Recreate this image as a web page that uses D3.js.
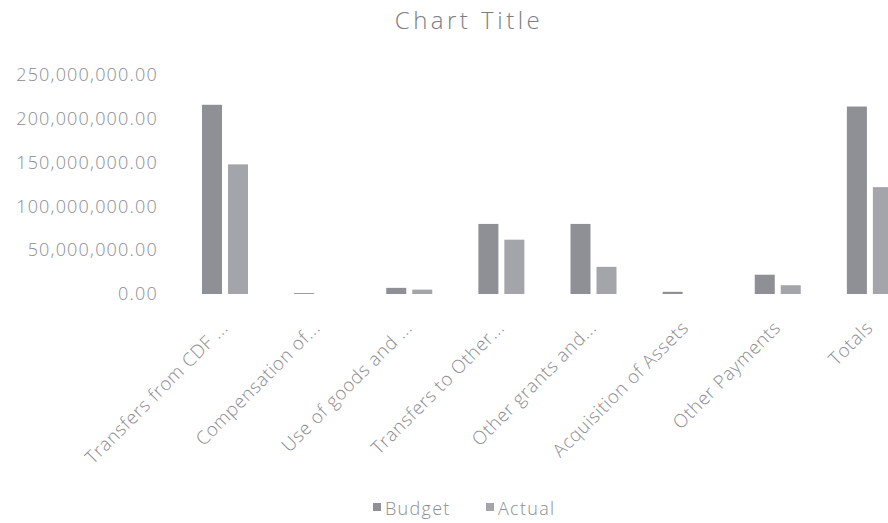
<!DOCTYPE html>
<html>
<head>
<meta charset="utf-8">
<script src="https://cdn.jsdelivr.net/npm/d3@7"></script>
<style>
  body { margin: 0; background: #fff; overflow: hidden; }
  text { font-family: "Open Sans", "DejaVu Sans", sans-serif; fill: #8c8d93; font-weight: 300; }
</style>
</head>
<body>
<div class="chart"></div>
<script>
const categories = ["Transfers from CDF ...", "Compensation of...", "Use of goods and ...", "Transfers to Other...",
    "Other grants and...", "Acquisition of Assets", "Other Payments", "Totals"];
const series = ["Budget", "Actual"];
const budget = [216000000, 1000000, 7000000, 80000000, 80000000, 2500000, 22000000, 214000000];
const actual = [148000000, 0, 5000000, 62000000, 31000000, 0, 10000000, 122000000];
const yTicks = [0, 50000000, 100000000, 150000000, 200000000, 250000000];

var width = 888;
var height = 523;

const colors = { Budget: "#8f9096", Actual: "#a4a5aa" };

var svg = d3.select(".chart")
    .append("svg")
    .attr("width", width)
    .attr("height", height);

// category scale runs past the right edge, like the cropped original
var x = d3.scaleBand()
    .domain(categories)
    .range([179, 916]);

var x1 = d3.scaleBand()
    .domain(series)
    .range([23, 69])
    .paddingInner(0.23);

var y = d3.scaleLinear()
    .domain([0, 250000000])
    .range([294, 75]);

// title
svg.append("text")
    .attr("x", 469)
    .attr("y", 29)
    .attr("text-anchor", "middle")
    .style("font-size", "24px")
    .style("letter-spacing", "3.5px")
    .style("fill", "#7c7d83")
    .text("Chart Title");

// y axis labels
var yAxis = d3.axisLeft(y)
    .tickValues(yTicks)
    .tickFormat(d3.format(",.2f"))
    .tickSize(0)
    .tickPadding(0);

svg.append("g")
    .attr("transform", "translate(158,0)")
    .call(yAxis)
    .call(g => g.select(".domain").remove())
    .selectAll("text")
    .style("font-size", "18px")
    .style("letter-spacing", "1.2px")
    .style("fill", "#8c8d93")
    .style("font-family", "\"Open Sans\", sans-serif");

// bars
const rows = categories.map((c, i) => ({ cat: c, Budget: budget[i], Actual: actual[i] }));

var groups = svg.selectAll("g.grp")
    .data(rows)
    .join("g")
    .attr("class", "grp")
    .attr("transform", d => `translate(${x(d.cat)},0)`);

groups.selectAll("rect")
    .data(d => series.map(s => ({ key: s, value: d[s] })))
    .join("rect")
    .attr("x", d => x1(d.key))
    .attr("width", x1.bandwidth())
    .attr("y", d => y(d.value))
    .attr("height", d => y(0) - y(d.value))
    .style("fill", d => colors[d.key]);

// rotated category labels
svg.selectAll("text.cat")
    .data(categories)
    .join("text")
    .attr("class", "cat")
    .attr("text-anchor", "end")
    .attr("transform", d => `translate(${x(d) + x.bandwidth() / 2 + 4},${329}) rotate(-45)`)
    .style("font-size", "18.5px")
    .style("letter-spacing", "0.6px")
    .text(d => d);

// legend
var legend = svg.append("g")
    .attr("transform", "translate(373,515)");

const legendX = [0, 113];
series.forEach((s, i) => {
    legend.append("rect")
        .attr("x", legendX[i])
        .attr("y", -12)
        .attr("width", 8)
        .attr("height", 8)
        .style("fill", colors[s]);
    legend.append("text")
        .attr("x", legendX[i] + 12)
        .attr("y", 0)
        .style("font-size", "18px")
        .style("letter-spacing", "1.3px")
        .text(s);
});
</script>
</body>
</html>
